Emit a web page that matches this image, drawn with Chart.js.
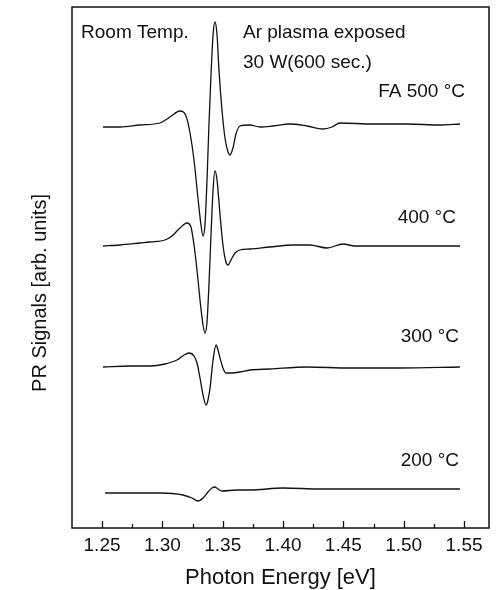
<!DOCTYPE html>
<html>
<head>
<meta charset="utf-8">
<title>PR Signals</title>
<script src="https://cdn.jsdelivr.net/npm/chart.js@4.4.0/dist/chart.umd.min.js"></script>
<style>
  body { margin: 0; background: #fff; }
</style>
</head>
<body>
<canvas id="prChart" width="498" height="590"></canvas>
<script>
// photon energy [eV] and PR signal [arb. units]
const energy500 = [1.2508, 1.2649, 1.2815, 1.2981, 1.3063, 1.3146, 1.3196, 1.3229, 1.3262, 1.3295, 1.3320, 1.3337, 1.3353, 1.3370, 1.3386, 1.3403, 1.3420, 1.3436, 1.3453, 1.3469, 1.3494, 1.3519, 1.3544, 1.3560, 1.3585, 1.3610, 1.3643, 1.3726, 1.3809, 1.3917, 1.4058, 1.4198, 1.4331, 1.4406, 1.4472, 1.4745, 1.5027, 1.5300, 1.5466];
const signal500 = [401, 401, 403, 405, 411, 417, 412, 395, 368, 330, 303, 292, 303, 348, 403, 453, 493, 506, 493, 458, 418, 390, 376, 373, 380, 394, 402, 403, 401, 402, 404, 402, 399, 401, 405, 404, 404, 403, 404];

const energy400 = [1.2508, 1.2649, 1.2815, 1.2898, 1.3022, 1.3080, 1.3146, 1.3204, 1.3237, 1.3262, 1.3287, 1.3312, 1.3337, 1.3353, 1.3370, 1.3386, 1.3403, 1.3420, 1.3436, 1.3453, 1.3478, 1.3502, 1.3527, 1.3544, 1.3569, 1.3602, 1.3643, 1.3726, 1.3892, 1.4082, 1.4223, 1.4364, 1.4497, 1.4596, 1.4969, 1.5218, 1.5466];
const signal400 = [282, 283, 285, 286, 288, 292, 300, 305, 301, 283, 258, 228, 203, 195, 206, 243, 293, 338, 357, 348, 313, 283, 266, 263, 268, 275, 278, 279, 281, 283, 283, 280, 284, 282, 282, 282, 282];

const energy300 = [1.2508, 1.2732, 1.2898, 1.3022, 1.3121, 1.3179, 1.3221, 1.3262, 1.3287, 1.3312, 1.3337, 1.3362, 1.3378, 1.3395, 1.3420, 1.3445, 1.3461, 1.3478, 1.3502, 1.3527, 1.3577, 1.3643, 1.3726, 1.3892, 1.4198, 1.4555, 1.4969, 1.5466];
const signal300 = [161, 162, 162, 164, 168, 173, 175, 172, 165, 150, 133, 123, 128, 140, 168, 183, 178, 170, 160, 155, 155, 156, 158, 159, 161, 160, 160, 161];

const energy200 = [1.2525, 1.2732, 1.2981, 1.3171, 1.3246, 1.3295, 1.3337, 1.3378, 1.3411, 1.3436, 1.3461, 1.3494, 1.3618, 1.3726, 1.4000, 1.4306, 1.4803, 1.5466];
const signal200 = [35, 35, 35, 33, 30, 27, 30, 36, 40, 41, 39, 37, 38, 38, 40, 39, 39, 39];

const xTicks = [1.25, 1.30, 1.35, 1.40, 1.45, 1.50, 1.55];
const curveLabels = ["FA 500 °C", "400 °C", "300 °C", "200 °C"];

function toPoints(xs, ys) {
  return xs.map((x, i) => ({ x: x, y: ys[i] }));
}

function makeDataset(label, xs, ys) {
  return {
    label: label,
    data: toPoints(xs, ys),
    borderColor: "#111",
    borderWidth: 1.3,
    pointRadius: 0,
    fill: false,
    cubicInterpolationMode: "monotone",
    tension: 0.4
  };
}

// text placed in data coordinates: [text, energy, signal, align]
const notes = [
  ["Room Temp.", 1.2326, 495, "left"],
  ["Ar plasma exposed", 1.3668, 495, "left"],
  ["30 W(600 sec.)", 1.3668, 465, "left"],
  [curveLabels[0], 1.5508, 436, "right"],
  [curveLabels[1], 1.5433, 310, "right"],
  [curveLabels[2], 1.5458, 191, "right"],
  [curveLabels[3], 1.5458, 67, "right"]
];

const decorations = {
  id: "decorations",
  afterDraw(chart) {
    const ctx = chart.ctx;
    const area = chart.chartArea;
    const xs = chart.scales.x;
    const ys = chart.scales.y;
    ctx.save();
    ctx.strokeStyle = "#111";
    ctx.lineWidth = 1.5;
    ctx.strokeRect(area.left, area.top, area.right - area.left, area.bottom - area.top);

    // inward ticks on the bottom axis
    ctx.lineWidth = 1.3;
    for (let k = 0; k <= 12; k++) {
      const v = 1.25 + k * 0.025;
      const px = Math.round(xs.getPixelForValue(v)) + 0.5;
      const len = k % 2 === 0 ? 7 : 4;
      ctx.beginPath();
      ctx.moveTo(px, area.bottom);
      ctx.lineTo(px, area.bottom - len);
      ctx.stroke();
    }

    ctx.fillStyle = "#111";
    ctx.font = "19px 'Liberation Sans', Arial, sans-serif";
    ctx.textBaseline = "middle";
    notes.forEach((n) => {
      ctx.textAlign = n[3];
      ctx.fillText(n[0], xs.getPixelForValue(n[1]), ys.getPixelForValue(n[2]));
    });

    // y axis title
    ctx.translate(40, 293);
    ctx.rotate(-Math.PI / 2);
    ctx.textAlign = "center";
    ctx.font = "20px 'Liberation Sans', Arial, sans-serif";
    ctx.fillText("PR Signals [arb. units]", 0, 0);
    ctx.restore();
  }
};

function drawChart() {
  const ctx = document.getElementById("prChart").getContext("2d");
  new Chart(ctx, {
    type: "line",
    data: {
      datasets: [
        makeDataset(curveLabels[0], energy500, signal500),
        makeDataset(curveLabels[1], energy400, signal400),
        makeDataset(curveLabels[2], energy300, signal300),
        makeDataset(curveLabels[3], energy200, signal200)
      ]
    },
    options: {
      responsive: false,
      animation: false,
      devicePixelRatio: 1,
      layout: { padding: { top: 7, right: 9, left: 0, bottom: 0 } },
      plugins: {
        legend: { display: false },
        tooltip: { enabled: false }
      },
      scales: {
        x: {
          type: "linear",
          min: 1.2251,
          max: 1.5707,
          afterBuildTicks: (scale) => {
            scale.ticks = xTicks.map((v) => ({ value: v }));
          },
          afterFit: (scale) => {
            scale.height = 62;
          },
          grid: { display: false, drawTicks: false },
          border: { display: false },
          ticks: {
            color: "#111",
            padding: 6,
            maxRotation: 0,
            autoSkip: false,
            font: { family: "'Liberation Sans', Arial, sans-serif", size: 19 },
            callback: (v) => v.toFixed(2)
          },
          title: {
            display: true,
            text: "Photon Energy [eV]",
            color: "#111",
            padding: { top: 0, bottom: 0 },
            font: { family: "'Liberation Sans', Arial, sans-serif", size: 22, lineHeight: 1.1 }
          }
        },
        y: {
          type: "linear",
          min: 0,
          max: 521,
          afterFit: (scale) => {
            scale.width = 72;
          },
          grid: { display: false, drawTicks: false },
          border: { display: false },
          ticks: { display: false }
        }
      }
    },
    plugins: [decorations]
  });
}

document.addEventListener("DOMContentLoaded", drawChart);
</script>
</body>
</html>
